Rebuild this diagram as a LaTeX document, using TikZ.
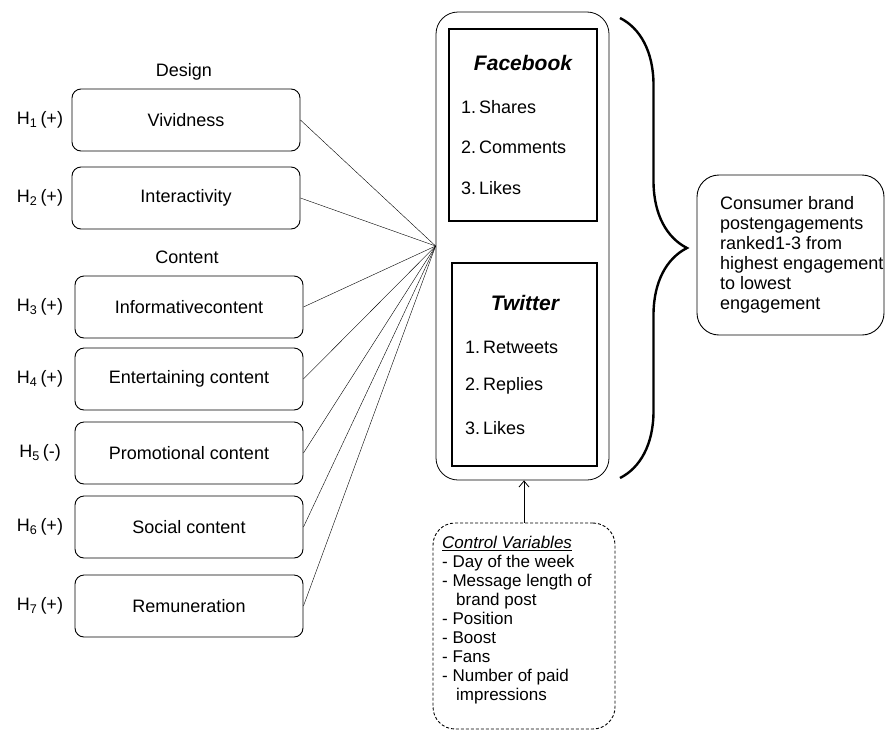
\documentclass[tikz,border=0pt]{standalone}
\usepackage{fontspec}
\setmainfont{Liberation Sans}
\usetikzlibrary{arrows.meta, decorations.pathreplacing}
\frenchspacing

\tikzset{
    varbox/.style = {draw, rounded corners = 9pt, line width = 0.9pt, minimum width = 228pt, minimum height = 62pt},
    platbox/.style = {draw, line width = 1.3pt},
    item/.style = {anchor = west, inner sep = 0pt},
    title/.style = {font = \fontsize{21}{24}\selectfont\bfseries\itshape}
}

\begin{document}
\begin{tikzpicture}[x = 1pt, y = -1pt, every node/.append style = {font = \fontsize{18}{19}\selectfont}]
        \useasboundingbox (0,0) rectangle (885,731);
        % outcome block
        \node[draw, rounded corners = 22pt, line width = 0.8pt, minimum width = 173pt, minimum height = 468pt] (outer) at (522.5,246) {};
        \node[platbox, minimum width = 148pt, minimum height = 192pt] (fb) at (523,125) {};
        \node[platbox, minimum width = 145pt, minimum height = 203pt] (tw) at (524.5,364.5) {};
        \node[title] (fbt) at (523,63) {Facebook};
        \node[title] (twt) at (525,303) {Twitter};
        \foreach \i/\y/\t in {1/107/Shares, 2/147/Comments, 3/188/Likes} {
            \node[item] (fb\i) at (461,\y) {\i.\,\t};
        }
        \foreach \i/\y/\t in {1/347/Retweets, 2/386/Replies, 3/428/Likes} {
            \node[item] (tw\i) at (465,\y) {\i.\,\t};
        }
        % predictors
        \node (design) at (184,72) {Design};
        \node (content) at (187,257) {Content};
        \foreach \nm/\xc/\yc/\k/\sg/\txt in {viv/186/120/1/+/Vividness, int/186/198/2/+/Interactivity, inf/189/307/3/+/Informativecontent, ent/189/379/4/+/Entertaining content, pro/189/453/5/-/Promotional content, soc/189/527/6/+/Social content, rem/189/606/7/+/Remuneration} {
            \node[varbox] (\nm) at (\xc,\yc) {\txt};
            \node (h\k) at (40,\yc) {H\textsubscript{\k}\,(\sg)};
            \draw[style = thin] (\nm.east) -- (outer.west);
        }
        % brace and outcome note
        \draw[line width = 2.4pt, decorate, decoration = {brace, amplitude = 67pt}] (620,18) -- (620,478);
        \node[draw, rounded corners = 22pt, line width = 0.9pt, minimum width = 187pt, minimum height = 160pt] (cons) at (790.5,255) {};
        \node[item, anchor = north west, align = left, font = \fontsize{18}{20}\selectfont] (constxt) at (720,196)
            {Consumer brand\\postengagements\\ranked1-3 from\\highest engagement\\to lowest\\engagement};
        % control variables
        \node[draw, dash pattern = on 3pt off 2pt, rounded corners = 22pt, line width = 0.9pt, minimum width = 182pt, minimum height = 206pt] (ctrl) at (524,626) {};
        \node[item, anchor = north west, align = left, font = \fontsize{17}{19}\selectfont] (ctrltxt) at (442,536)
            {\underline{\textit{Control Variables}}\\- Day of the week\\- Message length of\\\hspace*{14pt}brand post\\- Position\\- Boost\\- Fans\\- Number of paid\\\hspace*{14pt}impressions};
        \draw[-{Straight Barb[length = 6pt, width = 10pt]}, line width = 0.8pt] (ctrl.north) -- (ctrl.north |- outer.south);
    \end{tikzpicture}
\end{document}
